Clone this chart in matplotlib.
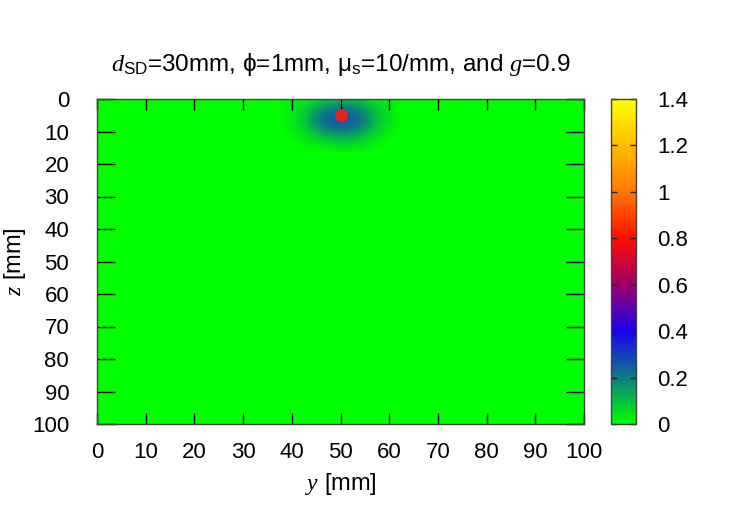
import numpy as np
import matplotlib
matplotlib.use("Agg")
import matplotlib.pyplot as plt
from matplotlib.colors import LinearSegmentedColormap

plt.rcParams["font.family"] = ["Liberation Sans", "DejaVu Sans"]
plt.rcParams["mathtext.fontset"] = "custom"
plt.rcParams["mathtext.rm"] = "Liberation Sans"
plt.rcParams["mathtext.it"] = "Liberation Serif:italic"

# grid of 2 mm cells (cell centres)
cell_y = np.arange(1, 100, 2)
cell_z = np.arange(1, 100, 2)

# values of the blob below the source
blob_y = [39, 41, 43, 45, 47, 49, 51, 53, 55, 57, 59, 61]
blob_z = [1, 3, 5, 7, 9, 11, 13, 15]
blob_vals = [
    [0.02, 0.03, 0.05, 0.08, 0.11, 0.13, 0.13, 0.12, 0.09, 0.06, 0.04, 0.02],
    [0.02, 0.04, 0.08, 0.13, 0.18, 0.21, 0.21, 0.19, 0.15, 0.10, 0.05, 0.02],
    [0.02, 0.05, 0.10, 0.17, 0.22, 0.25, 0.25, 0.23, 0.18, 0.11, 0.06, 0.03],
    [0.02, 0.05, 0.10, 0.18, 0.23, 0.25, 0.25, 0.23, 0.19, 0.11, 0.06, 0.03],
    [0.02, 0.04, 0.08, 0.14, 0.19, 0.22, 0.22, 0.20, 0.15, 0.09, 0.05, 0.02],
    [0.01, 0.03, 0.05, 0.09, 0.13, 0.15, 0.15, 0.14, 0.10, 0.06, 0.03, 0.01],
    [0.00, 0.01, 0.03, 0.05, 0.07, 0.09, 0.09, 0.08, 0.06, 0.03, 0.01, 0.00],
    [0.00, 0.00, 0.01, 0.02, 0.03, 0.04, 0.04, 0.04, 0.03, 0.01, 0.00, 0.00],
]

# source position
source_y = [50]
source_z = [5]

x_ticks = [0, 10, 20, 30, 40, 50, 60, 70, 80, 90, 100]
cb_ticks = [0, 0.2, 0.4, 0.6, 0.8, 1.0, 1.2, 1.4]
cb_labels = ["0", "0.2", "0.4", "0.6", "0.8", "1", "1.2", "1.4"]

# build full field
field = np.zeros((len(cell_z), len(cell_y)))
for i, z in enumerate(blob_z):
    for j, y in enumerate(blob_y):
        field[list(cell_z).index(z), list(cell_y).index(y)] = blob_vals[i][j]

cmap = LinearSegmentedColormap.from_list("gp", [
    (0.0, (0.0, 1.0, 0.0)),
    (0.2 / 1.4, (0.05, 0.48, 0.52)),
    (0.4 / 1.4, (0.10, 0.0, 0.95)),
    (0.6 / 1.4, (0.62, 0.0, 0.40)),
    (0.8 / 1.4, (1.0, 0.05, 0.0)),
    (1.0 / 1.4, (1.0, 0.47, 0.0)),
    (1.2 / 1.4, (1.0, 0.74, 0.0)),
    (1.0, (1.0, 1.0, 0.0)),
])

fig = plt.figure(figsize=(7.47, 5.23), dpi=100)
ax = fig.add_axes([97 / 747, 1 - 424 / 523, 487 / 747, 325 / 523])
cax = fig.add_axes([611 / 747, 1 - 424 / 523, 25 / 747, 325 / 523])

im = ax.imshow(field, cmap=cmap, vmin=0, vmax=1.4, extent=[0, 100, 100, 0],
               interpolation="bilinear", aspect="auto")
ax.plot(source_y, source_z, "o", color="#e8221c", markersize=9.5, markeredgewidth=0)

ax.set_xlim(0, 100)
ax.set_ylim(100, 0)
ax.set_xticks(x_ticks)
ax.set_yticks(x_ticks)
ax.tick_params(axis="x", direction="in", length=8, width=1, top=True, pad=13,
               labelsize=16, color="black")
ax.tick_params(axis="y", direction="in", length=13, width=1, right=True, pad=20,
               labelsize=16, color="black")
for s in ax.spines.values():
    s.set_color("#444444")
    s.set_linewidth(1)

ax.set_xlabel("$y$ [mm]", fontsize=17, labelpad=6)
ax.set_ylabel("$z$ [mm]", fontsize=17, labelpad=3)
ax.set_title(r"$d_{\mathrm{SD}}$=30mm, ϕ=1mm, μ$_{\mathrm{s}}$=10/mm, and $g$=0.9",
             fontsize=17.5, pad=20)

cb = fig.colorbar(im, cax=cax, ticks=cb_ticks)
cb.ax.set_yticklabels(cb_labels)
cb.ax.tick_params(direction="in", length=4, width=1, left=True, right=True,
                  labelsize=16, pad=15, color="#222222")
cb.outline.set_edgecolor("#444444")
cb.outline.set_linewidth(1)

fig.savefig("out.png", dpi=100, facecolor="white")
